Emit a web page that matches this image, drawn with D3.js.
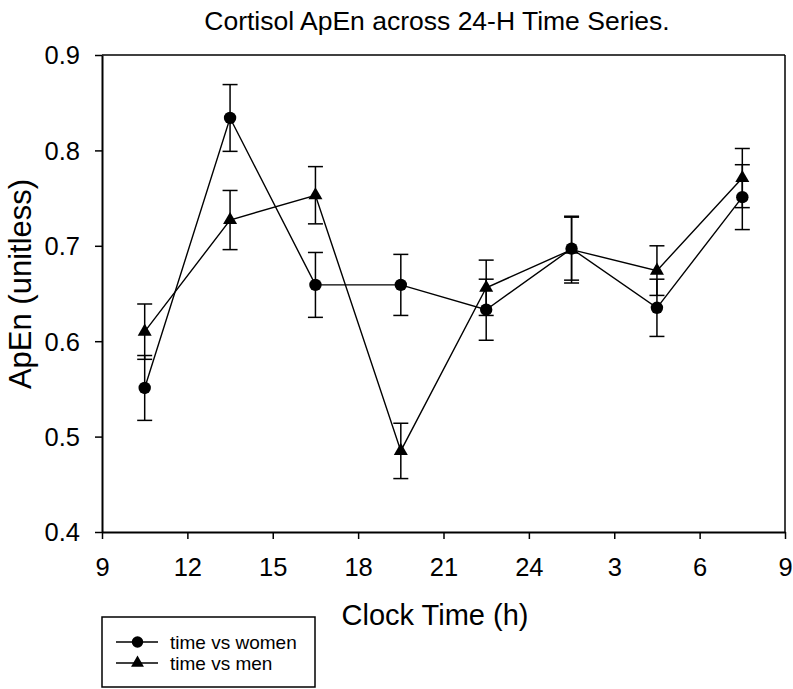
<!DOCTYPE html>
<html>
<head>
<meta charset="utf-8">
<script src="https://cdn.jsdelivr.net/npm/d3@7"></script>
<style>
	body { margin: 0; background: #fff; }
	svg { display: block; font-family: "Liberation Sans", Arial, sans-serif; }
</style>
</head>
<body>
<svg id="chart" width="793" height="689"></svg>
<script>
// clock time of each sample (hours after midnight, past 24 carries on)
var clockTimes = [10.5, 13.5, 16.5, 19.5, 22.5, 25.5, 28.5, 31.5];

// ApEn means and error (SEM)
var womenApEn = [0.551, 0.834, 0.659, 0.659, 0.633, 0.697, 0.635, 0.751];
var womenErr = [0.034, 0.035, 0.034, 0.032, 0.032, 0.033, 0.030, 0.034];
var menApEn = [0.610, 0.727, 0.753, 0.485, 0.656, 0.696, 0.674, 0.771];
var menErr = [0.029, 0.031, 0.030, 0.029, 0.029, 0.035, 0.026, 0.031];

var xTicks = [9, 12, 15, 18, 21, 24, 27, 30, 33];
var yTicks = [0.4, 0.5, 0.6, 0.7, 0.8, 0.9];

var seriesNames = ["time vs women", "time vs men"];

function drawChart() {
	var svg = d3.select("#chart");
	var left = 102, right = 785, top = 55, bottom = 532;

	var x = d3.scaleLinear().domain([9, 33]).range([left, right]);
	var y = d3.scaleLinear().domain([0.4, 0.9]).range([bottom, top]);

	// title
	svg.append("text")
		.attr("x", 437).attr("y", 30)
		.attr("text-anchor", "middle")
		.attr("font-size", 26.5)
		.text("Cortisol ApEn across 24-H Time Series.");

	// frame (top + right)
	svg.append("line").attr("x1", left).attr("x2", right).attr("y1", top).attr("y2", top)
		.attr("stroke", "#000").attr("stroke-width", 1.5);
	svg.append("line").attr("x1", right).attr("x2", right).attr("y1", top).attr("y2", bottom)
		.attr("stroke", "#000").attr("stroke-width", 1.5);

	// axes
	var xAxis = d3.axisBottom(x).tickValues(xTicks).tickSize(7).tickSizeOuter(0)
		.tickFormat(function (d) { return d > 24 ? d - 24 : d; });
	var yAxis = d3.axisLeft(y).tickValues(yTicks).tickSize(7).tickSizeOuter(0)
		.tickFormat(d3.format(".1f"));

	var gx = svg.append("g").attr("transform", "translate(0," + bottom + ")").call(xAxis);
	var gy = svg.append("g").attr("transform", "translate(" + left + ",0)").call(yAxis);

	[gx, gy].forEach(function (g) {
		g.select(".domain").attr("stroke", "#000").attr("stroke-width", 2);
		g.selectAll(".tick line").attr("stroke", "#000").attr("stroke-width", 1.5);
		g.selectAll(".tick text").attr("fill", "#000").attr("font-size", 25.5)
			.attr("font-family", "Liberation Sans, Arial, sans-serif");
	});
	gx.selectAll(".tick text").attr("dy", 0).attr("y", 44);
	gy.selectAll(".tick text").attr("x", -22).attr("dy", "0.35em");

	// axis titles
	svg.append("text")
		.attr("x", 435).attr("y", 625)
		.attr("text-anchor", "middle")
		.attr("font-size", 29)
		.text("Clock Time (h)");
	svg.append("text")
		.attr("transform", "translate(31,284) rotate(-90)")
		.attr("text-anchor", "middle")
		.attr("font-size", 31)
		.text("ApEn (unitless)");

	var series = [
		{ name: seriesNames[0], vals: womenApEn, errs: womenErr, shape: d3.symbolCircle, size: 121 },
		{ name: seriesNames[1], vals: menApEn, errs: menErr, shape: d3.symbolTriangle, size: 85 }
	];

	var line = d3.line()
		.x(function (d) { return x(d.t); })
		.y(function (d) { return y(d.v); });

	series.forEach(function (s) {
		let pts = clockTimes.map(function (t, i) { return { t: t, v: s.vals[i], e: s.errs[i] }; });

		svg.append("path").datum(pts)
			.attr("d", line)
			.attr("fill", "none")
			.attr("stroke", "#000")
			.attr("stroke-width", 1.4);

		let eb = svg.append("g").attr("stroke", "#000").attr("stroke-width", 1.5);
		pts.forEach(function (p) {
			let cx = x(p.t);
			eb.append("line").attr("x1", cx).attr("x2", cx).attr("y1", y(p.v - p.e)).attr("y2", y(p.v + p.e));
			eb.append("line").attr("x1", cx - 7.5).attr("x2", cx + 7.5).attr("y1", y(p.v - p.e)).attr("y2", y(p.v - p.e));
			eb.append("line").attr("x1", cx - 7.5).attr("x2", cx + 7.5).attr("y1", y(p.v + p.e)).attr("y2", y(p.v + p.e));
		});

		svg.append("g").selectAll("path").data(pts).enter().append("path")
			.attr("d", d3.symbol(s.shape, s.size))
			.attr("transform", function (d) { return "translate(" + x(d.t) + "," + y(d.v) + ")"; })
			.attr("fill", "#000");
	});

	// legend
	var lg = svg.append("g");
	lg.append("rect").attr("x", 102).attr("y", 617).attr("width", 213).attr("height", 70)
		.attr("fill", "#fff").attr("stroke", "#000").attr("stroke-width", 1.5);
	series.forEach(function (s, i) {
		let ly = 642 + i * 21;
		lg.append("line").attr("x1", 116).attr("x2", 158).attr("y1", ly).attr("y2", ly)
			.attr("stroke", "#000").attr("stroke-width", 1.4);
		lg.append("path").attr("d", d3.symbol(s.shape, s.size * 0.85))
			.attr("transform", "translate(137.5," + ly + ")").attr("fill", "#000");
		lg.append("text").attr("x", 170).attr("y", ly + 6.5)
			.attr("font-size", 19).text(s.name);
	});
}

drawChart();
</script>
</body>
</html>
